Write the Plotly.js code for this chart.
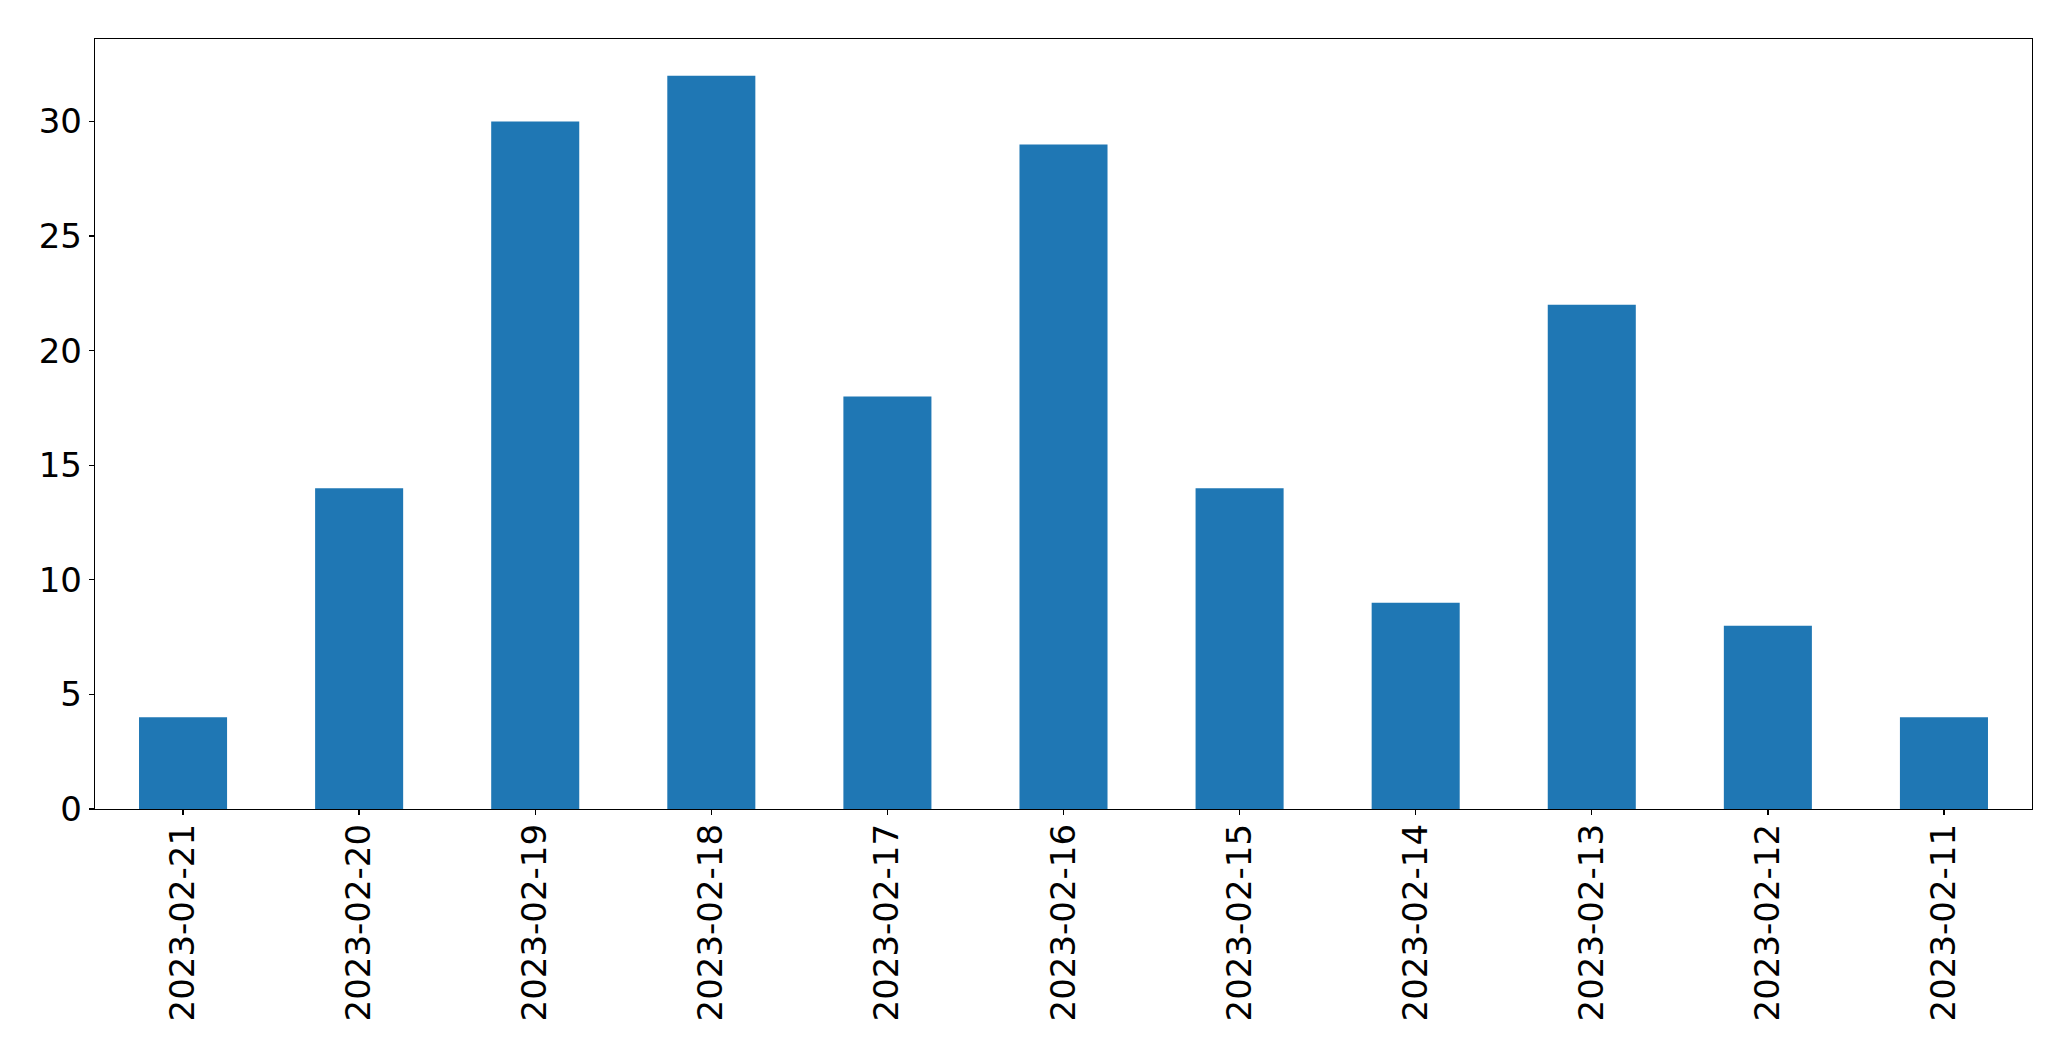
<!DOCTYPE html>
<html>
<head>
<meta charset="utf-8">
<script src="https://cdn.plot.ly/plotly-3.0.1.min.js"></script>
<style>html,body{margin:0;padding:0;background:#fff;}#chart{width:2071px;height:1061px;}</style>
</head>
<body>
<div id="chart"></div>
<script>
const dates = ["2023-02-21","2023-02-20","2023-02-19","2023-02-18","2023-02-17","2023-02-16","2023-02-15","2023-02-14","2023-02-13","2023-02-12","2023-02-11"];
const counts = [4, 14, 30, 32, 18, 29, 14, 9, 22, 8, 4];
const yTicks = [0, 5, 10, 15, 20, 25, 30];

const trace = {
  type: 'bar',
  x: dates,
  y: counts,
  marker: {color: '#1f77b4', line: {width: 0}},
  hoverinfo: 'x+y'
};

const layout = {
  width: 2071,
  height: 1061,
  margin: {l: 95, r: 39, t: 39, b: 252, pad: 0},
  paper_bgcolor: '#ffffff',
  plot_bgcolor: '#ffffff',
  bargap: 0.5,
  showlegend: false,
  font: {family: 'DejaVu Sans', color: '#000000', size: 34},
  xaxis: {
    type: 'category',
    range: [-0.5, dates.length - 0.5],
    showline: true, mirror: true, linecolor: '#000000', linewidth: 1.3,
    showgrid: false, zeroline: false,
    ticks: 'outside', ticklen: 5, tickwidth: 1.3, tickcolor: '#000000',
    tickangle: -90,
    ticklabelstandoff: -5,
    tickfont: {family: 'DejaVu Sans', size: 34, color: '#000000'}
  },
  yaxis: {
    range: [0, 33.6],
    tickmode: 'array',
    tickvals: yTicks,
    ticktext: yTicks.map(String),
    showline: true, mirror: true, linecolor: '#000000', linewidth: 1.3,
    showgrid: false, zeroline: false,
    ticks: 'outside', ticklen: 5, tickwidth: 1.3, tickcolor: '#000000',
    tickfont: {family: 'DejaVu Sans', size: 34, color: '#000000'}
  }
};

Plotly.newPlot('chart', [trace], layout, {displayModeBar: false, staticPlot: true});
</script>
</body>
</html>
